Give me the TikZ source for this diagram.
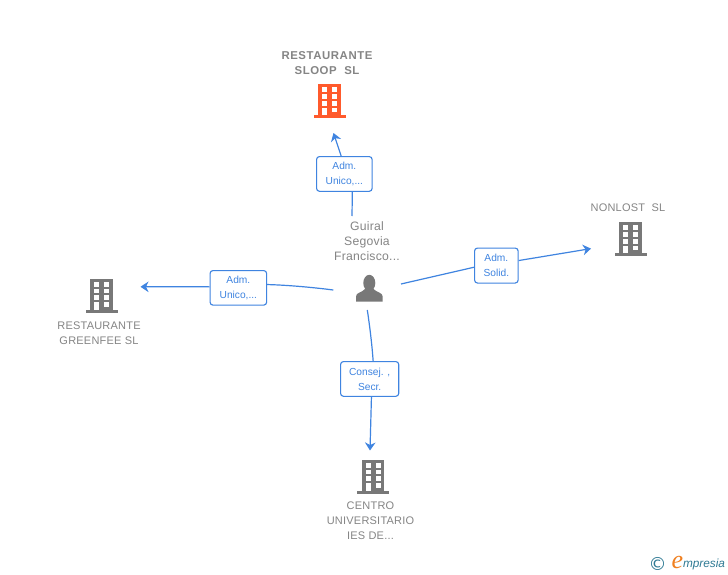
\documentclass[tikz,border=0pt]{standalone}
\usepackage{fontspec}
\setmainfont{Liberation Sans}
\newfontfamily\namefont[LetterSpace=2]{Liberation Sans}
\newfontfamily\boldnamefont[LetterSpace=5]{Liberation Sans}
\newfontfamily\logoe{Liberation Serif}
\newfontfamily\logoc{DejaVu Sans}
\usetikzlibrary{arrows.meta,calc}
\definecolor{linkblue}{HTML}{3F84E0}
\definecolor{greytext}{HTML}{858585}
\definecolor{bldggrey}{HTML}{787878}
\definecolor{bldgred}{HTML}{FF5A2C}
\definecolor{logoteal}{HTML}{2F7A94}
\definecolor{logoorange}{HTML}{F08020}
\tikzset{
  x=1pt,y=-1pt,
  conn/.style={draw=linkblue,line width=1.2pt},
  connarrow/.style={conn,-{Stealth[length=8pt,width=10.5pt,inset=2.5pt]}},
  lab/.style={draw=linkblue,line width=1.1pt,rounded corners=3pt,fill=white,inner sep=0pt,
    text=linkblue,font=\fontsize{10.2}{15}\selectfont,align=center,anchor=north west},
  entname/.style={text=greytext,font=\namefont\fontsize{11}{15}\selectfont,align=center,inner sep=0pt},
  entbold/.style={entname,font=\boldnamefont\bfseries\fontsize{11.4}{15}\selectfont},
  personname/.style={entname,font=\namefont\fontsize{12.2}{15}\selectfont},
  anchorpt/.style={inner sep=0pt,minimum size=0pt,outer sep=0pt},
}
\newcommand{\bldg}[4]{% name, centre x, top y, colour
  \node[anchorpt] (#1) at (#2,#3+17) {};
  \begin{scope}[shift={(#2,#3)}]
    \fill[#4] (-11.2,0) rectangle (11.2,31);
    \fill[#4] (-16,31) rectangle (16,34);
    \foreach \wx in {-7.4,2.6}{
      \foreach \wy in {3.4,10,16.8}{
        \fill[white] (\wx,\wy) rectangle ++(5.2,4.9);
      }
    }
    \fill[white] (-7.4,23.6) rectangle (-2.2,31);
    \fill[white] (2.6,23.6) rectangle (7.8,28.4);
  \end{scope}
}
\begin{document}
\begin{tikzpicture}
\useasboundingbox (0,0) rectangle (728,575);
\fill[white] (0,0) rectangle (728,575);

% building icons
\bldg{sloop}{329.5}{84}{bldgred}
\bldg{nonlost}{630.5}{222}{bldggrey}
\bldg{greenfee}{101.5}{278.5}{bldggrey}
\bldg{centro}{373}{459.5}{bldggrey}

% person icon
\node[anchorpt] (person) at (369.3,289) {};
\fill[bldggrey] (369.3,283) ellipse (6 and 8.2);
\fill[bldggrey] (356,301.5) -- (356,296.5) .. controls (356,292.5) and (362,292.5) .. (365,289)
  -- (373.5,289) .. controls (376.5,292.5) and (382.7,292.5) .. (382.7,296.5) -- (382.7,301.5) -- cycle;

% labels
\node[lab,minimum width=55.6pt,minimum height=34.8pt] (l1) at (316,156) {Adm.\\Unico,...};
\node[lab,minimum width=56.6pt,minimum height=34.6pt] (l2) at (209.5,270) {Adm.\\Unico,...};
\node[lab,minimum width=43.6pt,minimum height=35pt] (l3) at (474,247.5) {Adm.\\Solid.};
\node[lab,minimum width=58.2pt,minimum height=34.8pt] (l4) at (340,361) {Consej. ,\\Secr.};

% connector end points
\coordinate (s1) at (352,216);
\coordinate (t1) at (333.5,133);
\coordinate (s2) at (333.3,290);
\coordinate (t2) at (140.5,286.8);
\coordinate (s3) at (401,284);
\coordinate (t3) at (591,248.6);
\coordinate (s4) at (367.3,310);
\coordinate (t4) at (370,450.5);

% connectors
\draw[conn] (s1) -- ($(l1.south)+(8,0)$);
\draw[connarrow] ($(l1.north)+(-3.2,0)$) -- (t1);
\draw[conn] (s2) .. controls (310,287) and (285,285) .. ($(l2.east)+(0,-3.3)$);
\draw[connarrow] ($(l2.west)+(0,-1)$) .. controls (185,286.8) and (165,286.8) .. (t2);
\draw[conn] (s3) -- ($(l3.west)+(0,1.7)$);
\draw[connarrow] ($(l3.east)+(0,-5)$) -- (t3);
\draw[conn] (s4) .. controls (370,328) and (372,345) .. ($(l4.north)+(3.5,0)$);
\draw[connarrow] ($(l4.south)+(1.8,0)$) -- (t4);

% names
\node[entbold] (nsloop) at (327,63) {RESTAURANTE\\SLOOP\ \ SL};
\node[entname] (nnonlost) at (628,207.5) {NONLOST\ \ SL};
\node[entname] (ngreenfee) at (99,333) {RESTAURANTE\\GREENFEE SL};
\node[entname] (ncentro) at (370.5,520.5) {CENTRO\\UNIVERSITARIO\\IES DE...};
\node[personname] (nperson) at (367,241) {Guiral\\Segovia\\Francisco...};

% logo
\node[anchorpt,text=logoteal,font=\logoc\fontsize{18}{18}\selectfont] (copy) at (657.5,563.5) {©};
\node[anchorpt,text=logoorange,font=\logoe\itshape\fontsize{26}{26}\selectfont] (loge) at (677.5,562) {e};
\node[anchorpt,text=logoteal,font=\itshape\fontsize{11.8}{13}\selectfont,anchor=west] (logor) at (683,564) {mpresia};
\end{tikzpicture}
\end{document}
